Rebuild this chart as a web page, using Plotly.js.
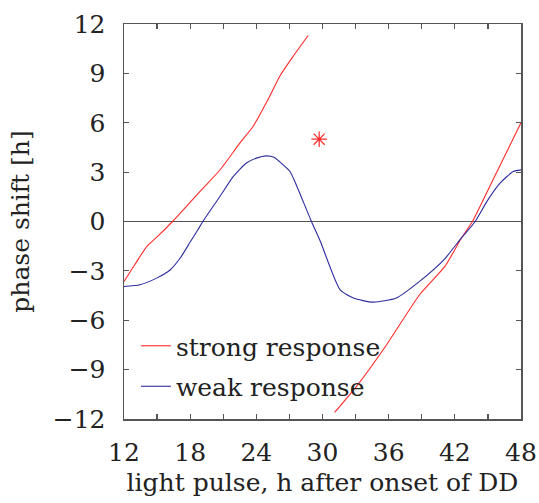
<!DOCTYPE html>
<html>
<head>
<meta charset="utf-8">
<script src="https://cdn.plot.ly/plotly-3.0.1.min.js"></script>
<style>html,body{margin:0;padding:0;background:#fff;}#chart{width:539px;height:503px;}</style>
</head>
<body>
<div id="chart"></div>
<script>
// strong response, first branch (h after onset of DD, phase shift h)
const strongX1 = [12, 13, 14.06, 15, 16.4, 17.5, 19, 20.7, 22.5, 23.7, 25.2, 26.1, 27.3, 28.7];
const strongY1 = [-3.64, -2.6, -1.52, -0.94, 0, 0.8, 1.9, 3.13, 4.76, 5.77, 7.59, 8.8, 10.0, 11.3];
// strong response, second branch
const strongX2 = [31.1, 33.1, 35.8, 38.8, 41.1, 42.6, 43.6, 45, 46.5, 48];
const strongY2 = [-11.6, -10.0, -7.5, -4.45, -2.73, -1.0, 0, 1.9, 3.95, 6.0];
// weak response
const weakX = [12, 13.45, 14.96, 16.2, 17.1, 18.0, 18.7, 19.15, 20.7, 21.9, 23.1, 24, 24.9, 25.6, 26.1, 27.05, 27.7, 29.0, 29.8, 31.6, 32.8, 34.6, 36.7, 38.8, 41.0, 42.6, 43.85, 44.9, 46.1, 47.3, 48];
const weakY = [-3.95, -3.84, -3.44, -2.93, -2.22, -1.25, -0.5, 0, 1.52, 2.73, 3.55, 3.85, 3.99, 3.9, 3.64, 3.04, 2.1, 0, -1.2, -4.15, -4.65, -4.9, -4.65, -3.64, -2.33, -1.0, 0, 1.21, 2.33, 3.04, 3.14];
// isolated marker
const starX = [29.7];
const starY = [5.0];

const yTicks = [-12, -9, -6, -3, 0, 3, 6, 9, 12];
const xTicks = [12, 18, 24, 30, 36, 42, 48];

const RED = '#ff2a2a';
const BLUE = '#2b2b9e';
const AX = '#555555';
const FONT = '"DejaVu Serif", serif';
const FS = 25;

const traces = [
  {x: strongX1, y: strongY1, mode: 'lines', name: 'strong response', legendgroup: 's',
   line: {color: RED, width: 1.1, shape: 'spline', smoothing: 0.5}},
  {x: strongX2, y: strongY2, mode: 'lines', name: 'strong response', legendgroup: 's', showlegend: false,
   line: {color: RED, width: 1.1, shape: 'spline', smoothing: 0.5}},
  {x: weakX, y: weakY, mode: 'lines', name: 'weak response', legendgroup: 'w',
   line: {color: BLUE, width: 1.1, shape: 'spline', smoothing: 0.6}},
  {x: starX, y: starY, mode: 'markers', showlegend: false,
   marker: {symbol: 'asterisk-open', size: 13, color: RED, line: {color: RED, width: 1.2}}}
];

const layout = {
  width: 539, height: 503,
  margin: {l: 124, r: 18, t: 24, b: 84},
  paper_bgcolor: '#fff', plot_bgcolor: '#fff',
  font: {family: FONT, size: FS, color: '#222'},
  showlegend: true,
  legend: {x: 0.03, y: 0.243, xanchor: 'left', yanchor: 'top', bgcolor: 'rgba(0,0,0,0)',
           traceorder: 'grouped', tracegroupgap: 5,
           font: {family: FONT, size: FS, color: '#222'}, itemwidth: 30},
  xaxis: {
    range: [12, 48], tickvals: xTicks, ticks: 'inside', ticklen: 5, tickwidth: 1.2, tickcolor: AX,
    minor: {dtick: 3, ticks: 'inside', ticklen: 5, tickwidth: 1.2, tickcolor: AX, showgrid: false},
    showline: true, linecolor: AX, linewidth: 1.5, mirror: 'ticks', showgrid: false, zeroline: false,
    ticklabelstandoff: 10,
    tickfont: {family: FONT, size: FS, color: '#222'},
    title: {text: 'light pulse, h after onset of DD', font: {family: FONT, size: FS, color: '#222'}, standoff: 8}
  },
  yaxis: {
    range: [-12, 12], tickvals: yTicks, ticks: 'inside', ticklen: 5, tickwidth: 1.2, tickcolor: AX,
    showline: true, linecolor: AX, linewidth: 1.5, mirror: 'ticks', showgrid: false,
    zeroline: true, zerolinecolor: AX, zerolinewidth: 1.3,
    ticklabelstandoff: 12,
    tickfont: {family: FONT, size: FS, color: '#222'},
    title: {text: 'phase shift [h]', font: {family: FONT, size: FS, color: '#222'}, standoff: 16}
  }
};

Plotly.newPlot('chart', traces, layout, {displayModeBar: false, staticPlot: true});
</script>
</body>
</html>
